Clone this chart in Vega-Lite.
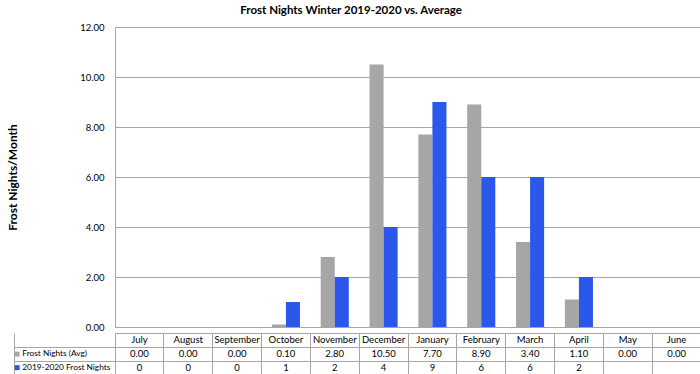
{
  "$schema": "https://vega.github.io/schema/vega-lite/v6.json",
  "padding": {"left": 6, "top": 4, "right": 3, "bottom": 2},
  "title": {"text": "Frost Nights Winter 2019-2020 vs. Average", "font": "Lato", "fontSize": 11.5, "fontWeight": "bold", "anchor": "middle", "frame": "bounds", "offset": 6, "dx": -3, "color": "#000000"},
  "config": {
    "font": "Lato",
    "concat": {"spacing": 0},
    "legend": {"orient": "none", "legendX": -102, "legendY": 323, "symbolType": "square", "symbolSize": 25, "symbolStrokeWidth": 0, "labelFontSize": 8.3, "labelFont": "Lato", "labelColor": "#000000", "rowPadding": 4.5, "padding": 0, "labelOffset": 1, "labelLimit": 200}
  },
  "data": {"values": [
    {"month": "July", "series": "Frost Nights (Avg)", "value": 0.0},
    {"month": "August", "series": "Frost Nights (Avg)", "value": 0.0},
    {"month": "September", "series": "Frost Nights (Avg)", "value": 0.0},
    {"month": "October", "series": "Frost Nights (Avg)", "value": 0.1},
    {"month": "November", "series": "Frost Nights (Avg)", "value": 2.8},
    {"month": "December", "series": "Frost Nights (Avg)", "value": 10.5},
    {"month": "January", "series": "Frost Nights (Avg)", "value": 7.7},
    {"month": "February", "series": "Frost Nights (Avg)", "value": 8.9},
    {"month": "March", "series": "Frost Nights (Avg)", "value": 3.4},
    {"month": "April", "series": "Frost Nights (Avg)", "value": 1.1},
    {"month": "May", "series": "Frost Nights (Avg)", "value": 0.0},
    {"month": "June", "series": "Frost Nights (Avg)", "value": 0.0},
    {"month": "July", "series": "2019-2020 Frost Nights", "value": 0},
    {"month": "August", "series": "2019-2020 Frost Nights", "value": 0},
    {"month": "September", "series": "2019-2020 Frost Nights", "value": 0},
    {"month": "October", "series": "2019-2020 Frost Nights", "value": 1},
    {"month": "November", "series": "2019-2020 Frost Nights", "value": 2},
    {"month": "December", "series": "2019-2020 Frost Nights", "value": 4},
    {"month": "January", "series": "2019-2020 Frost Nights", "value": 9},
    {"month": "February", "series": "2019-2020 Frost Nights", "value": 6},
    {"month": "March", "series": "2019-2020 Frost Nights", "value": 6},
    {"month": "April", "series": "2019-2020 Frost Nights", "value": 2},
    {"month": "May", "series": "2019-2020 Frost Nights", "value": null},
    {"month": "June", "series": "2019-2020 Frost Nights", "value": null}
  ]},
  "vconcat": [
    {
      "width": 586,
      "height": 300,
      "view": {"stroke": null},
      "mark": {"type": "bar"},
      "encoding": {
        "x": {"field": "month", "type": "nominal", "sort": ["July","August","September","October","November","December","January","February","March","April","May","June"], "scale": {"type": "band", "paddingInner": 0, "paddingOuter": 0}, "axis": null},
        "xOffset": {"field": "series", "type": "nominal", "sort": ["Frost Nights (Avg)", "2019-2020 Frost Nights"], "scale": {"paddingInner": 0, "paddingOuter": 0.74}},
        "y": {"field": "value", "type": "quantitative", "scale": {"domain": [0, 12], "nice": false}, "axis": {"values": [0,2,4,6,8,10,12], "format": ".2f", "title": "Frost Nights/Month", "titleFont": "Lato", "titleFontSize": 12, "titleFontWeight": "bold", "titleColor": "#000000", "titlePadding": 60, "labelFont": "Lato", "labelFontSize": 9.5, "labelColor": "#000000", "labelPadding": 11, "ticks": false, "domainColor": "#a6a6a6", "gridColor": "#a6a6a6", "grid": true}},
        "color": {"field": "series", "type": "nominal", "scale": {"domain": ["Frost Nights (Avg)", "2019-2020 Frost Nights"], "range": ["#a6a6a6", "#2b57ea"]}, "legend": {"title": null}}
      }
    },
    {
      "width": 586,
      "height": 42,
      "view": {"stroke": "#a6a6a6"},
      "encoding": {
        "x": {"field": "month", "type": "nominal", "sort": ["July","August","September","October","November","December","January","February","March","April","May","June"], "scale": {"type": "band", "paddingInner": 0, "paddingOuter": 0}, "axis": {"grid": true, "bandPosition": 0, "labels": false, "ticks": false, "domain": false, "title": null, "gridColor": "#a6a6a6"}}
      },
      "layer": [
        {
          "transform": [{"filter": "datum.series == 'Frost Nights (Avg)'"}],
          "mark": {"type": "text", "fontSize": 9.5, "font": "Lato", "color": "#000000", "baseline": "middle"},
          "encoding": {
            "y": {"datum": "hdr", "type": "nominal", "scale": {"type": "band", "domain": ["hdr", "Frost Nights (Avg)", "2019-2020 Frost Nights"], "paddingInner": 0, "paddingOuter": 0}, "axis": {"grid": true, "bandPosition": 1, "labels": false, "ticks": true, "tickSize": -101, "offset": 101, "tickColor": "#a6a6a6", "domain": true, "domainColor": "#a6a6a6", "title": null, "gridColor": "#a6a6a6"}},
            "text": {"field": "month", "type": "nominal"}
          }
        },
        {
          "transform": [{"filter": "datum.series == 'Frost Nights (Avg)'"}],
          "mark": {"type": "text", "fontSize": 9.5, "font": "Lato", "color": "#000000", "baseline": "middle"},
          "encoding": {
            "y": {"field": "series", "type": "nominal"},
            "text": {"field": "value", "type": "quantitative", "format": ".2f"}
          }
        },
        {
          "transform": [{"filter": "datum.series == '2019-2020 Frost Nights' && isValid(datum.value)"}],
          "mark": {"type": "text", "fontSize": 9.5, "font": "Lato", "color": "#000000", "baseline": "middle"},
          "encoding": {
            "y": {"field": "series", "type": "nominal"},
            "text": {"field": "value", "type": "quantitative", "format": "d"}
          }
        }
      ]
    }
  ]
}
